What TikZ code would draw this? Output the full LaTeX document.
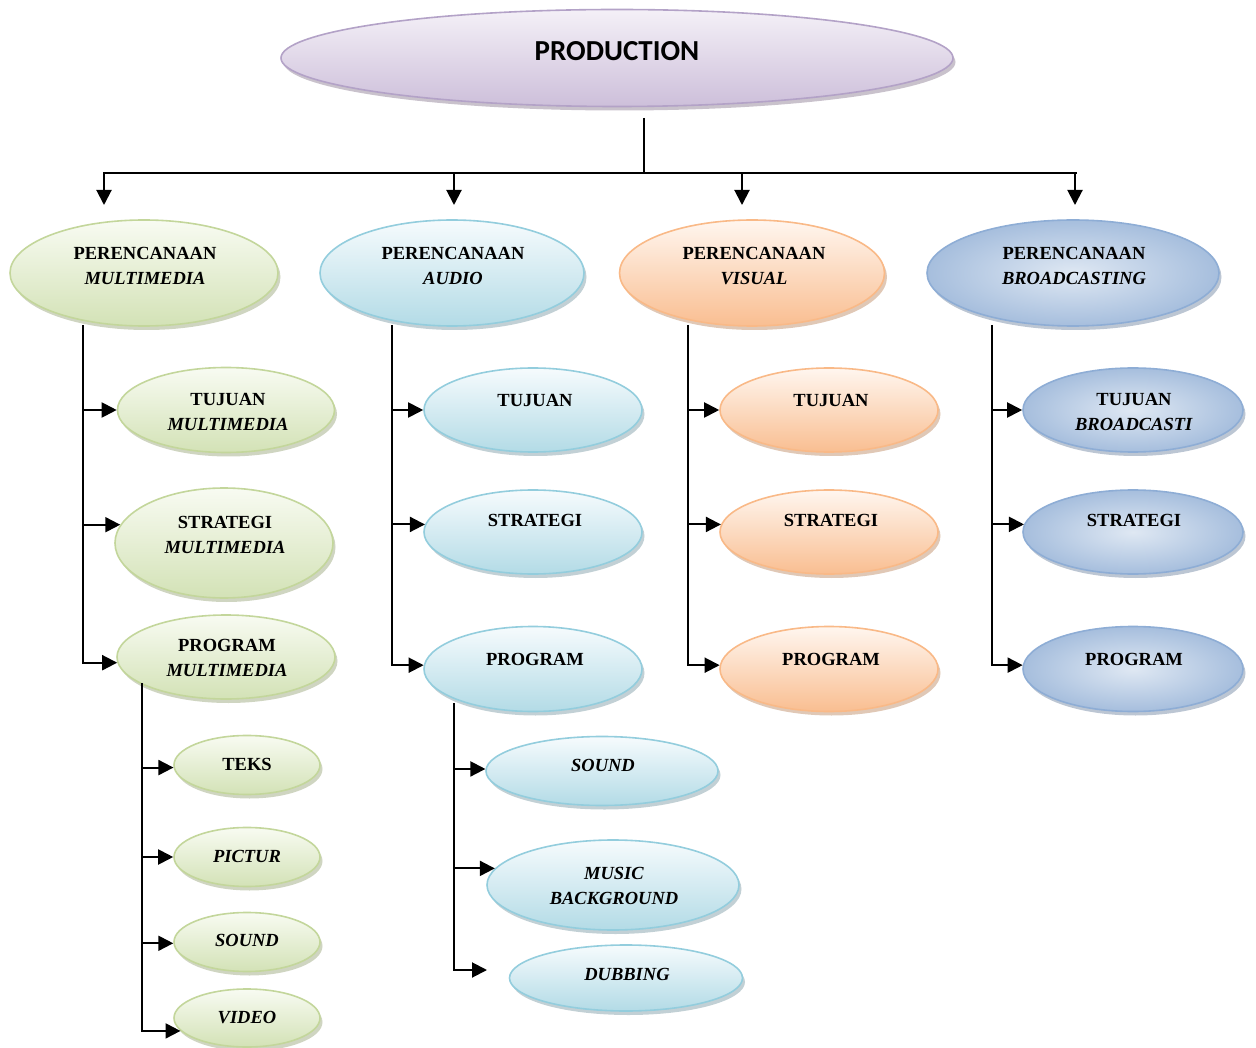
\documentclass[tikz,border=0pt]{standalone}
\usepackage{fontspec}
\setmainfont{Liberation Serif}
\newfontfamily\prodfont{Carlito}
\usetikzlibrary{shapes.geometric,shadows,arrows.meta}
\definecolor{purD}{HTML}{B3A2C7}\definecolor{purT}{HTML}{F4F0F7}\definecolor{purB}{HTML}{CDBFDA}\definecolor{purS}{HTML}{948599}
\definecolor{grnD}{HTML}{C3D69B}\definecolor{grnT}{HTML}{F8FBF2}\definecolor{grnB}{HTML}{D3E2B6}\definecolor{grnS}{HTML}{A0AC84}
\definecolor{aquD}{HTML}{93CDDD}\definecolor{aquT}{HTML}{F6FBFD}\definecolor{aquB}{HTML}{B3DBE6}\definecolor{aquS}{HTML}{86A2AB}
\definecolor{orgD}{HTML}{F9B987}\definecolor{orgT}{HTML}{FFF6EF}\definecolor{orgB}{HTML}{F9BE91}\definecolor{orgS}{HTML}{C2926D}
\definecolor{bluD}{HTML}{8EADD5}\definecolor{bluI}{HTML}{DFE8F3}\definecolor{bluO}{HTML}{A6BEDD}\definecolor{bluS}{HTML}{7A8EA8}
\begin{document}
\begin{tikzpicture}[x=1pt,y=-1pt,
  ebox/.style={ellipse, inner sep=0pt, line width=1.6pt},
  sz/.style 2 args={minimum width=#1pt, minimum height=#2pt},
  epur/.style={ebox, draw=purD, top color=purT, bottom color=purB, drop shadow={shadow xshift=2.5pt, shadow yshift=-4pt, fill=purS}},
  egrn/.style={ebox, draw=grnD, top color=grnT, bottom color=grnB, drop shadow={shadow xshift=2.5pt, shadow yshift=-4pt, fill=grnS}},
  eaqu/.style={ebox, draw=aquD, top color=aquT, bottom color=aquB, drop shadow={shadow xshift=2.5pt, shadow yshift=-4pt, fill=aquS}},
  eorg/.style={ebox, draw=orgD, top color=orgT, bottom color=orgB, drop shadow={shadow xshift=2.5pt, shadow yshift=-4pt, fill=orgS}},
  eblu/.style={ebox, draw=bluD, inner color=bluI, outer color=bluO, drop shadow={shadow xshift=2.5pt, shadow yshift=-4pt, fill=bluS}},
  txt/.style={font=\fontsize{18.5}{25}\selectfont\bfseries, align=center, inner sep=0pt, text=black},
  ln/.style={line width=2pt, draw=black},
  arr/.style={line width=2pt, draw=black, -{Triangle[length=15pt,width=15pt]}},
]
\useasboundingbox (0,0) rectangle (1256,1048);

% ---------- ellipses ----------
\node[epur, sz={672}{97}] (prod) at (617,58) {};
\node[font=\prodfont\fontsize{29}{30}\selectfont\bfseries, inner sep=0pt] (prodt) at (617,51) {PRODUCTION};

\node[egrn, sz={268}{106}] (pm) at (144,273) {};
\node[eaqu, sz={264}{106}] (pa) at (452,273) {};
\node[eorg, sz={265}{106}] (pv) at (752,273) {};
\node[eblu, sz={292}{106}] (pb) at (1073,273) {};

\node[egrn, sz={217}{85}] (m1) at (226,410) {};
\node[egrn, sz={218}{110}] (m2) at (224,543) {};
\node[egrn, sz={218}{84}] (m3) at (226,657) {};
\node[egrn, sz={146}{59}] (m31) at (247,765) {};
\node[egrn, sz={146}{59}] (m32) at (247,857) {};
\node[egrn, sz={146}{59}] (m33) at (247,942) {};
\node[egrn, sz={146}{58}] (m34) at (247,1018) {};

\node[eaqu, sz={218}{84}] (a1) at (533,410) {};
\node[eaqu, sz={218}{84}] (a2) at (533,532) {};
\node[eaqu, sz={218}{85}] (a3) at (533,669) {};
\node[eaqu, sz={232}{69}] (a31) at (602,771) {};
\node[eaqu, sz={252}{90}] (a32) at (613,885) {};
\node[eaqu, sz={233}{66}] (a33) at (626,978) {};

\node[eorg, sz={218}{84}] (v1) at (829,410) {};
\node[eorg, sz={218}{84}] (v2) at (829,532) {};
\node[eorg, sz={218}{85}] (v3) at (829,669) {};

\node[eblu, sz={220}{84}] (b1) at (1133,410) {};
\node[eblu, sz={220}{84}] (b2) at (1133,532) {};
\node[eblu, sz={220}{85}] (b3) at (1133,669) {};

% ---------- texts ----------
\node[txt] (pmt) at (145,266) {PERENCANAAN\\\textit{MULTIMEDIA}};
\node[txt] (pat) at (453,266) {PERENCANAAN\\\textit{AUDIO}};
\node[txt] (pvt) at (754,266) {PERENCANAAN\\\textit{VISUAL}};
\node[txt] (pbt) at (1074,266) {PERENCANAAN\\\textit{BROADCASTING}};

\node[txt] (m1t) at (228,412) {TUJUAN\\\textit{MULTIMEDIA}};
\node[txt] (m2t) at (225,535) {STRATEGI\\\textit{MULTIMEDIA}};
\node[txt] (m3t) at (227,658) {PROGRAM\\\textit{MULTIMEDIA}};
\node[txt] (m31t) at (247,764) {TEKS};
\node[txt] (m32t) at (247,856) {\textit{PICTUR}};
\node[txt] (m33t) at (247,940) {\textit{SOUND}};
\node[txt] (m34t) at (247,1018) {\textit{VIDEO}};

\node[txt] (a1t) at (535,400) {TUJUAN};
\node[txt] (a2t) at (535,520) {STRATEGI};
\node[txt] (a3t) at (535,659) {PROGRAM};
\node[txt] (a31t) at (603,765) {\textit{SOUND}};
\node[txt] (a32t) at (614,886) {\textit{MUSIC}\\\textit{BACKGROUND}};
\node[txt] (a33t) at (627,974) {\textit{DUBBING}};

\node[txt] (v1t) at (831,400) {TUJUAN};
\node[txt] (v2t) at (831,520) {STRATEGI};
\node[txt] (v3t) at (831,659) {PROGRAM};

\node[txt] (b1t) at (1134,412) {TUJUAN\\\textit{BROADCASTI}};
\node[txt] (b2t) at (1134,520) {STRATEGI};
\node[txt] (b3t) at (1134,659) {PROGRAM};

% ---------- top connectors ----------
\coordinate (ps) at (644,118);
\coordinate (pj) at (644,173);
\coordinate (hl) at (103,173);
\coordinate (hr) at (1077,173);
\foreach \i/\x in {1/104,2/454,3/742,4/1075}{
  \coordinate (j\i) at (\x,173);
  \coordinate (k\i) at (\x,205);
}
\draw[line width=1.5pt] (ps) -- (pj);
\draw[ln] (hl) -- (hr);
\draw[arr] (j1) -- (k1);
\draw[arr] (j2) -- (k2);
\draw[arr] (j3) -- (k3);
\draw[arr] (j4) -- (k4);

% ---------- column trunks ----------
\coordinate (tm) at (83,325);
\coordinate (ta) at (392,325);
\coordinate (tv) at (688,325);
\coordinate (tb) at (992,325);
\coordinate (tm3) at (142,683);
\coordinate (ta3) at (454,703);
\coordinate (dubend) at (487,970);

% multimedia
\draw[arr] (tm) |- (m3.183);
\draw[arr] (m1.west -| tm) -- (m1.west);
\draw[arr] (m2.170 -| tm) -- (m2.170);
% multimedia program children
\draw[arr] (tm3) |- (m34.191);
\draw[arr] (m31.182 -| tm3) -- (m31.182);
\draw[arr] (m32.west -| tm3) -- (m32.west);
\draw[arr] (m33.181 -| tm3) -- (m33.181);

% audio
\draw[arr] (ta) |- (a3.178);
\draw[arr] (a1.west -| ta) -- (a1.west);
\draw[arr] (a2.176 -| ta) -- (a2.176);
% audio program children
\draw[arr] (ta3) |- (dubend);
\draw[arr] (a31.179 -| ta3) -- (a31.179);
\draw[arr] (a32.172 -| ta3) -- (a32.172);

% visual
\draw[arr] (tv) |- (v3.178);
\draw[arr] (v1.west -| tv) -- (v1.west);
\draw[arr] (v2.176 -| tv) -- (v2.176);

% broadcasting
\draw[arr] (tb) |- (b3.178);
\draw[arr] (b1.west -| tb) -- (b1.west);
\draw[arr] (b2.176 -| tb) -- (b2.176);
\end{tikzpicture}
\end{document}
